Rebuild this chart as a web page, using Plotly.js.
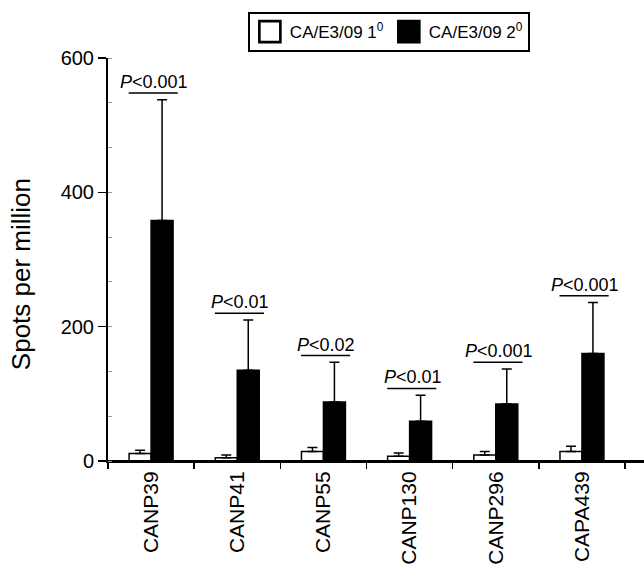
<!DOCTYPE html>
<html>
<head>
<meta charset="utf-8">
<script src="https://cdn.plot.ly/plotly-3.0.1.min.js"></script>
<style>html,body{margin:0;padding:0;background:#fff;}#chart{width:644px;height:569px;}</style>
</head>
<body>
<div id="chart"></div>
<script>
const categories = ["CANP39", "CANP41", "CANP55", "CANP130", "CANP296", "CAPA439"];
const primaryValues = [11, 5, 14, 7, 9, 14];
const primaryErr = [5, 4, 6, 5, 5, 8];
const secondaryValues = [358, 135, 88, 59, 85, 160];
const secondaryErr = [180, 75, 59, 39, 52, 76];
const pLabels = ["0.001", "0.01", "0.02", "0.01", "0.001", "0.001"];
const yTicks = [0, 200, 400, 600];

const FONT = '"Liberation Sans", Arial, Helvetica, sans-serif';
const zeros = categories.map(() => 0);

const traces = [
  {
    type: 'bar', name: 'CA/E3/09 1<sup>0</sup>', x: categories, y: primaryValues,
    marker: {color: '#ffffff', line: {color: '#000000', width: 1.5}},
    error_y: {type: 'data', symmetric: false, array: primaryErr, arrayminus: zeros,
      color: '#000000', thickness: 1.5, width: 5},
    hoverinfo: 'none'
  },
  {
    type: 'bar', name: 'CA/E3/09 2<sup>0</sup>', x: categories, y: secondaryValues,
    marker: {color: '#000000', line: {color: '#000000', width: 1.5}},
    error_y: {type: 'data', symmetric: false, array: secondaryErr, arrayminus: zeros,
      color: '#000000', thickness: 1.5, width: 5},
    hoverinfo: 'none'
  }
];

const shapes = [
  {type: 'line', xref: 'paper', yref: 'y', x0: 0, x1: 1, y0: 0, y1: 0,
    line: {color: '#000000', width: 2}}
];
const annotations = [];
categories.forEach((c, i) => {
  const yl = secondaryValues[i] + secondaryErr[i] + 10;
  shapes.push({type: 'line', xref: 'x', yref: 'y', x0: i - 0.26, x1: i + 0.31, y0: yl, y1: yl,
    line: {color: '#000000', width: 1.5}});
  annotations.push({xref: 'x', yref: 'y', x: i, y: yl, xanchor: 'center', yanchor: 'bottom',
    xshift: 3, yshift: -1, showarrow: false,
    text: '<i>P</i>&lt;' + pLabels[i], font: {family: FONT, size: 18, color: '#000000'}});
});
annotations.push({xref: 'paper', yref: 'paper', x: -0.162, y: 0.464, xanchor: 'center', yanchor: 'middle',
  textangle: -90, showarrow: false, text: 'Spots per million',
  font: {family: FONT, size: 26, color: '#000000'}});

const layout = {
  width: 644, height: 569,
  margin: {l: 108, r: 0, t: 58, b: 108, pad: 0},
  paper_bgcolor: '#ffffff', plot_bgcolor: '#ffffff',
  font: {family: FONT, color: '#000000'},
  barmode: 'group', bargap: 0.49, bargroupgap: 0,
  showlegend: true,
  legend: {orientation: 'h', x: 0.524, xanchor: 'center', y: 1.114, yanchor: 'top',
    bordercolor: '#000000', borderwidth: 2, font: {family: FONT, size: 17, color: '#000000'},
    bgcolor: '#ffffff', traceorder: 'normal', itemwidth: 30},
  xaxis: {
    type: 'category', range: [-0.5, 5.72], showline: true, linecolor: '#000000', linewidth: 2,
    ticks: 'outside', tickson: 'boundaries', ticklen: 6, tickwidth: 1.5, tickcolor: '#000000',
    tickangle: -90, tickfont: {family: FONT, size: 21, color: '#000000'},
    showgrid: false, zeroline: false, fixedrange: true, automargin: false
  },
  yaxis: {
    range: [0, 600], tickmode: 'array', tickvals: yTicks, ticktext: yTicks.map(String),
    showline: true, linecolor: '#000000', linewidth: 2,
    ticks: 'outside', ticklen: 8, tickwidth: 1.5, tickcolor: '#000000',
    minor: {ticks: 'inside', dtick: 200 / 3, ticklen: 4, tickwidth: 1, tickcolor: '#999999', showgrid: false},
    tickfont: {family: FONT, size: 20, color: '#000000'},
    showgrid: false, zeroline: false, fixedrange: true, automargin: false
  },
  shapes: shapes,
  annotations: annotations
};

Plotly.newPlot('chart', traces, layout, {staticPlot: true, displayModeBar: false}).then(() => {
  document.querySelectorAll('.legendpoints path').forEach(p => {
    const t = p.getAttribute('transform') || '';
    p.setAttribute('transform', t + ' scale(1.75)');
  });
});
</script>
</body>
</html>
